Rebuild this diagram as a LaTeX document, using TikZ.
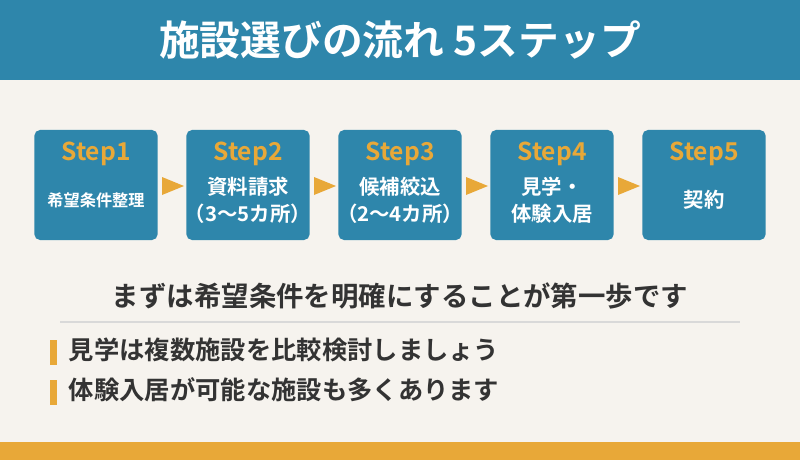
\documentclass[tikz,border=0pt]{standalone}
\usepackage{fontspec}
\setmainfont{Noto Sans CJK JP}
\newfontfamily\jpbold{Noto Sans CJK JP Bold}
\usetikzlibrary{positioning}
\definecolor{teal}{HTML}{2E86AB}
\definecolor{gold}{HTML}{E8A838}
\definecolor{paper}{HTML}{F6F3EE}
\definecolor{ink}{HTML}{333333}
\tikzset{
    step box/.style = {fill=teal, rounded corners=4pt, minimum width=3.08cm, minimum height=2.75cm, inner sep=0pt},
    step title/.style = {text=gold, font=\jpbold\fontsize{17.5}{20}\selectfont},
    step text/.style = {text=white, align=center, font=\jpbold\fontsize{14.5}{19}\selectfont},
    tip/.style = {fill=gold}
}
\begin{document}
\begin{tikzpicture}[x=0.025cm, y=-0.025cm]
    \useasboundingbox (0,0) rectangle (800,460);
    \fill[paper] (0,0) rectangle (800,460);
    \fill[teal] (0,0) rectangle (800,80);
    \fill[gold] (0,442) rectangle (800,460);
    \node[text=white, font=\jpbold\fontsize{29}{32}\selectfont] (title) at (400,40) {施設選びの流れ 5ステップ};
    % steps
    \foreach \i/\x/\t in {1/96/{\fontsize{11.5}{14}\selectfont 希望条件整理},
                          2/248/{資料請求\\（3〜5カ所）},
                          3/400/{候補絞込\\（2〜4カ所）},
                          4/552/{見学・\\体験入居},
                          5/704/{契約}} {
        \node[step box] (s\i) at (\x,185) {};
        \node[step title] (h\i) at (\x,154) {Step\i};
        \node[step text] (t\i) at (\x,200) {\t};
    }
    \foreach \i in {1,...,4} {
        \fill[tip] (\i*152+10,177) -- (\i*152+32,186) -- (\i*152+10,195) -- cycle;
    }
    \node[text=ink, font=\jpbold\fontsize{19.5}{22}\selectfont] (lead) at (400,296) {まずは希望条件を明確にすることが第一歩です};
    \draw[line width=2pt, draw=black!15] (60,322) -- (740,322);
    \fill[gold] (50,340) rectangle (57,365);
    \fill[gold] (50,380) rectangle (57,405);
    \node[anchor=west, text=ink, font=\jpbold\fontsize{18}{20}\selectfont] (p1) at (64,350) {見学は複数施設を比較検討しましょう};
    \node[anchor=west, text=ink, font=\jpbold\fontsize{18}{20}\selectfont] (p2) at (64,390) {体験入居が可能な施設も多くあります};
\end{tikzpicture}
\end{document}
